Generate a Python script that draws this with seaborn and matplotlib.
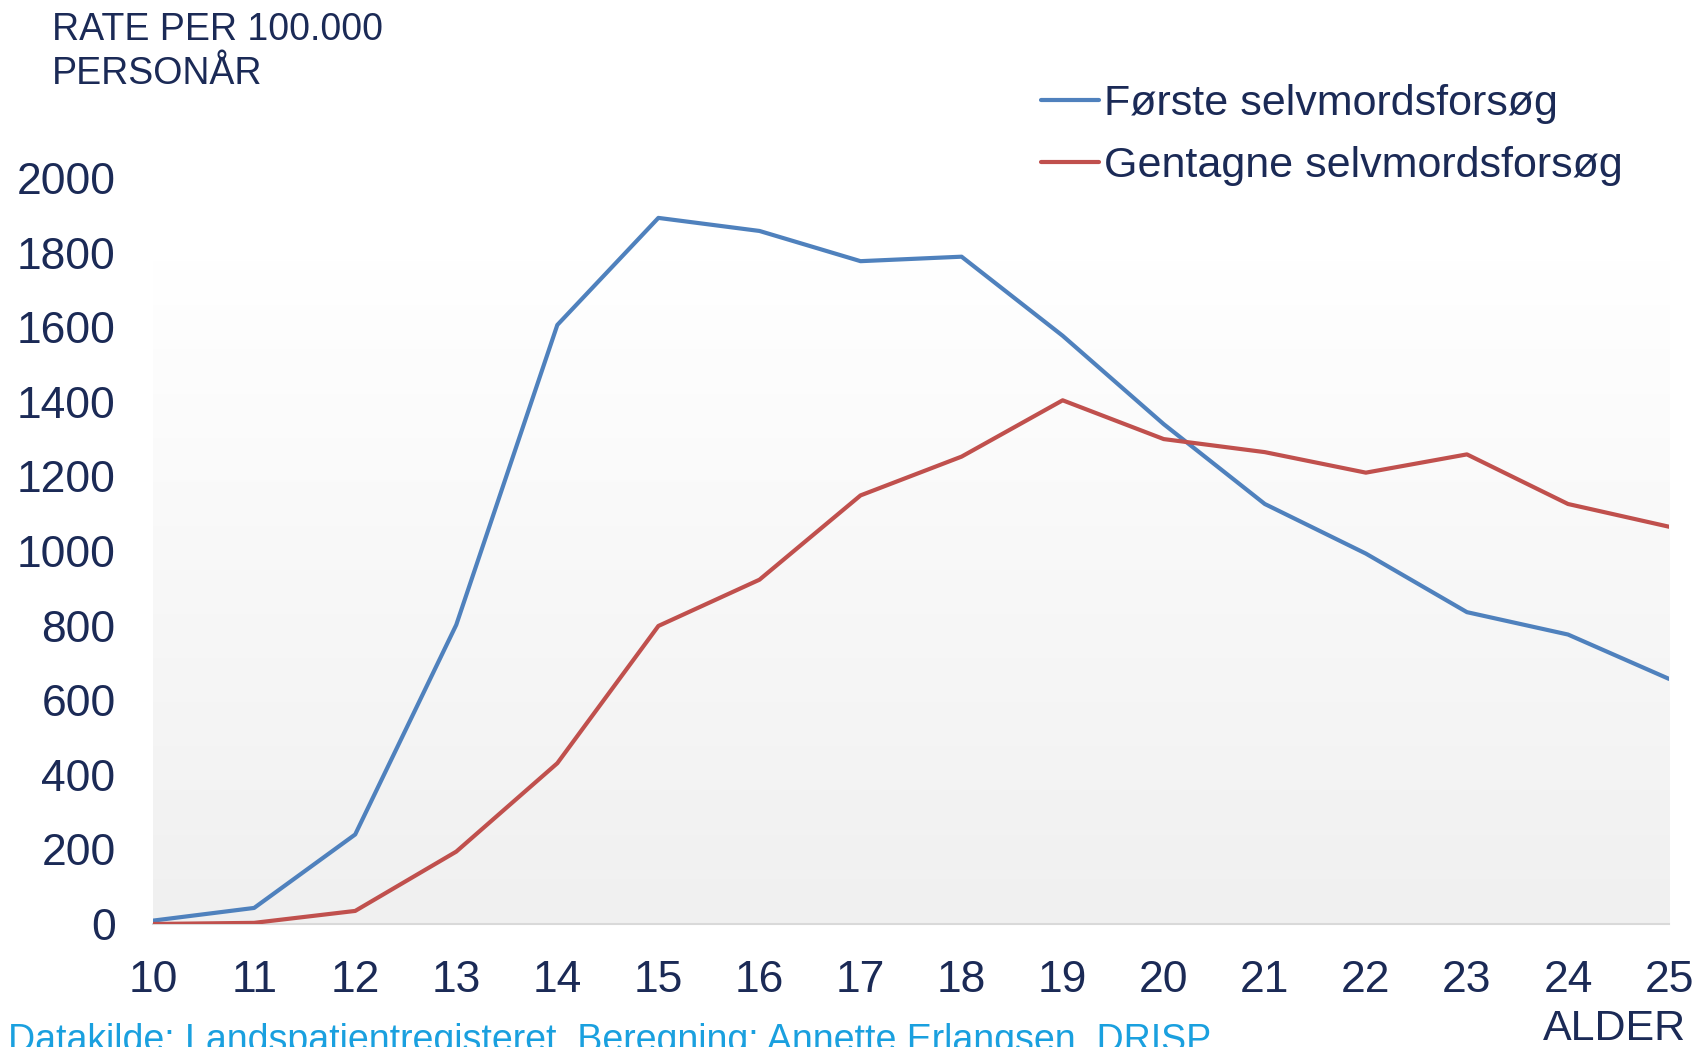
import matplotlib
matplotlib.use("Agg")
import matplotlib.pyplot as plt
import numpy as np
import pandas as pd
import seaborn as sns

sns.set_theme(style="white")
plt.rcParams["font.family"] = ["Liberation Sans", "DejaVu Sans"]

# data
ages = list(range(10, 26))
first_attempt = [9, 43, 240, 802, 1606, 1893, 1858, 1777, 1789, 1577, 1340, 1126, 993, 836, 776, 657]
repeat_attempt = [0, 3, 35, 194, 431, 799, 923, 1149, 1253, 1404, 1300, 1265, 1210, 1259, 1126, 1065]
series_names = ["Første selvmordsforsøg", "Gentagne selvmordsforsøg"]
colors = ["#4F81BD", "#C0504D"]

TEXT = "#1B2A56"

df = pd.DataFrame({
    "Alder": ages * 2,
    "Rate": first_attempt + repeat_attempt,
    "Serie": [series_names[0]] * len(ages) + [series_names[1]] * len(ages),
})

fig = plt.figure(figsize=(16.95, 10.47), dpi=100)
ax = fig.add_axes([0.0903, 0.1175, 0.8944, 0.7125])

# soft grey gradient behind the plot, like the original
grad = np.linspace(0, 1, 256).reshape(-1, 1)
ax.imshow(grad, extent=[10, 25, 0, 1780], aspect="auto",
          cmap=matplotlib.colors.LinearSegmentedColormap.from_list("g", ["#F0F0F0", "#FFFFFF"]),
          origin="lower", zorder=0)

sns.lineplot(data=df, x="Alder", y="Rate", hue="Serie", palette=colors,
             linewidth=3, ax=ax, zorder=3)

ax.set_xlim(10, 25)
ax.set_ylim(0, 2000)
ax.set_xticks(ages)
ax.set_yticks(range(0, 2001, 200))
ax.tick_params(axis="both", labelsize=32, colors=TEXT, length=0)
ax.tick_params(axis="x", pad=26)
ax.tick_params(axis="y", pad=27)
ax.set_xlabel("")
ax.set_ylabel("")
for s in ["top", "right", "left"]:
    ax.spines[s].set_visible(False)
ax.spines["bottom"].set_color("#D9D9D9")
ax.spines["bottom"].set_linewidth(1.5)
ax.set_facecolor("white")

leg = ax.legend(loc="upper left", bbox_to_anchor=(1024 / 1695, 1 - 67 / 1047),
                bbox_transform=fig.transFigure, frameon=False, fontsize=31,
                handlelength=1.35, handletextpad=0.1, labelspacing=0.5, borderaxespad=0)
for t in leg.get_texts():
    t.set_color(TEXT)

fig.text(52 / 1695, 1 - 12 / 1047, "RATE PER 100.000\nPERSONÅR", fontsize=27,
         color=TEXT, va="top", ha="left", linespacing=1.3)
fig.text(1686 / 1695, 1 - 1040 / 1047, "ALDER", fontsize=31, color=TEXT,
         va="baseline", ha="right")
fig.text(8 / 1695, 1 - 1023 / 1047,
         "Datakilde: Landspatientregisteret. Beregning: Annette Erlangsen, DRISP",
         fontsize=27, color="#1AA0DF", va="top", ha="left")

fig.savefig("out.png", dpi=100)
